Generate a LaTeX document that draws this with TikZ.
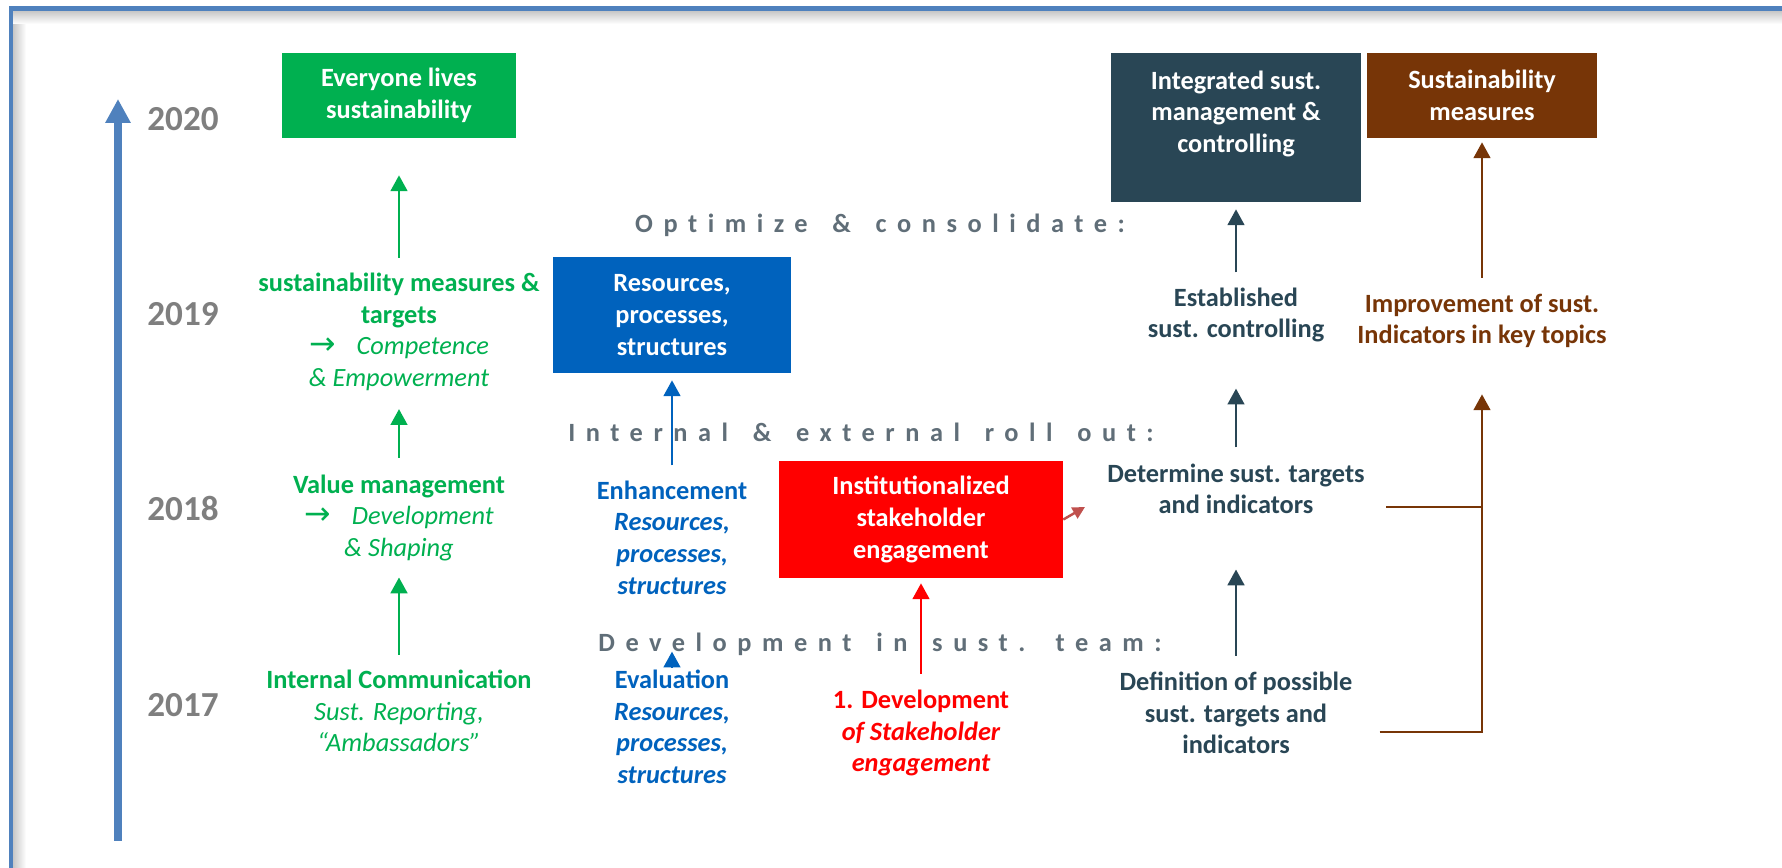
\documentclass[tikz,border=0pt]{standalone}
\usepackage{fontspec}
\setmainfont{Carlito}
\newfontfamily\arrowfont{DejaVu Sans}
\newfontfamily\phasefont[LetterSpace=40, WordSpace=1.5, Ligatures=CommonOff]{Carlito}
\usetikzlibrary{arrows.meta}
\definecolor{frameblue}{RGB}{79,129,189}
\definecolor{valgreen}{RGB}{0,176,80}
\definecolor{resblue}{RGB}{0,98,189}
\definecolor{stakered}{RGB}{255,0,0}
\definecolor{ctrlslate}{RGB}{41,70,85}
\definecolor{measbrown}{RGB}{119,53,7}
\definecolor{yeargray}{RGB}{127,127,127}
\definecolor{phasegray}{RGB}{96,110,120}
\definecolor{linkred}{RGB}{192,80,77}

\begin{document}
\begin{tikzpicture}[x=0.02cm, y=0.02cm,
	every node/.style={inner sep=0pt, align=center, font=\fontsize{15}{18}\selectfont\bfseries},
	box/.style={text=white, fill=#1},
	year/.style={text=yeargray, font=\fontsize{20}{24}\selectfont\bfseries},
	phase/.style={text=phasegray, font=\phasefont\fontsize{15}{18}\selectfont\bfseries},
	up/.style={draw=#1, line width=1.4pt, arrows={-Triangle[length=9pt, width=9.5pt]}, shorten <=0.3cm}]
		\useasboundingbox (0,0) rectangle (1782,868);
		% frame
		\shade[left color=black!22, right color=white] (13,0) rectangle (26,857);
		\shade[top color=black!22, bottom color=white] (13,844) rectangle (1782,857);
		\draw[frameblue, line width=0.1cm] (11,0) -- (11,859) -- (1782,859);

		% time line
		\coordinate (t0) at (118,27);
		\coordinate (t1) at (118,769);
		\draw[frameblue, line width=4.5pt, arrows={-Triangle[length=13.6pt, width=13.6pt]}] (t0) -- (t1);
		\node[year] (y20) at (183,749) {2020};
		\node[year] (y19) at (183,554) {2019};
		\node[year] (y18) at (183,359) {2018};
		\node[year] (y17) at (183,163) {2017};

		% goals
		\node[box=valgreen, minimum width=4.68cm, minimum height=1.7cm] (ever) at (399,772.5) {Everyone lives\\sustainability};
		\node[box=resblue, minimum width=4.78cm, minimum height=2.32cm] (res) at (672,553) {Resources,\\processes,\\structures};
		\node[box=stakered, minimum width=5.68cm, minimum height=2.34cm] (inst) at (921,348.5) {Institutionalized\\stakeholder\\engagement};
		\node[box=ctrlslate, minimum width=5cm, minimum height=2.98cm] (integ) at (1236,740.5) {Integrated sust.\\management \&\\controlling\\\mbox{}};
		\node[box=measbrown, minimum width=4.62cm, minimum height=1.7cm] (smeas) at (1482,772.5) {Sustainability\\measures};

		% steps
		\node[text=valgreen] (gtarg) at (399,536) {sustainability measures \&\\targets\\{\mdseries{\arrowfont\fontsize{18}{18}\selectfont →}\hspace{0.8em}\itshape Competence}\\{\mdseries\itshape \& Empowerment}};
		\node[text=valgreen] (gvalue) at (399,350) {Value management\\{\mdseries{\arrowfont\fontsize{18}{18}\selectfont →}\hspace{0.8em}\itshape Development}\\{\mdseries\itshape \& Shaping}};
		\node[text=valgreen] (gcomm) at (399,157) {Internal Communication\\{\mdseries\itshape Sust. Reporting,}\\{\mdseries\itshape “Ambassadors”}};
		\node[text=resblue] (benh) at (672,330.5) {Enhancement\\{\itshape Resources,}\\{\itshape processes,}\\{\itshape structures}};
		\node[text=resblue] (beval) at (672,141) {Evaluation\\{\itshape Resources,}\\{\itshape processes,}\\{\itshape structures}};
		\node[text=stakered] (rdev) at (921,135) {1. Development\\{\itshape of Stakeholder}\\{\itshape engagement}};
		\node[text=ctrlslate] (dest) at (1236,553) {Established\\sust. controlling};
		\node[text=ctrlslate] (ddet) at (1236,379) {Determine sust. targets\\and indicators};
		\node[text=ctrlslate] (ddef) at (1236,155) {Definition of possible\\sust. targets and\\indicators};
		\node[text=measbrown] (bimpr) at (1482,547) {Improvement of sust.\\Indicators in key topics};

		% phases
		\node[phase] (optim) at (880,643) {Optimize \& consolidate:};
		\node[phase] (rollout) at (861,436) {Internal \& external roll out:};
		\node[phase] (devteam) at (880,224) {Development in sust. team:};

		\draw[up=valgreen, shorten >=0.74cm] (gtarg) -- (ever);
		\draw[up=valgreen, shorten <=0.34cm, shorten >=0.36cm] (gvalue) -- (gtarg);
		\draw[up=valgreen, shorten >=0.32cm] (gcomm) -- (gvalue);
		\draw[up=resblue, shorten >=0.14cm] (benh) -- (res);
		\draw[up=resblue, shorten <=0.04cm, shorten >=1.14cm] (beval) -- (benh);
		\draw[up=stakered, shorten <=0.32cm, shorten >=0.1cm] (rdev) -- (inst);
		\draw[up=ctrlslate, shorten >=0.14cm] (dest) -- (integ);
		\draw[up=ctrlslate, shorten <=0.32cm, shorten >=0.92cm] (ddet) -- (dest);
		\draw[up=ctrlslate, shorten <=0.32cm, shorten >=1.1cm] (ddef) -- (ddet);
		\draw[up=measbrown, shorten <=0.32cm, shorten >=0.08cm] (bimpr) -- (smeas);
		\coordinate (detjoin) at ([shift={(0.42cm,-0.36cm)}]ddet.east);
		\coordinate (defjoin) at ([shift={(0.54cm,-0.38cm)}]ddef.east);
		\draw[measbrown, line width=1.4pt] (detjoin) -- (detjoin -| bimpr);
		\draw[up=measbrown, shorten <=0pt, shorten >=0.92cm] (defjoin) -| (bimpr);
		\coordinate (linktip) at (1085,361);
		\draw[linkred, line width=1.4pt, arrows={-Triangle[length=7pt, width=7pt]}] (inst.east) -- (linktip);
	\end{tikzpicture}
\end{document}
